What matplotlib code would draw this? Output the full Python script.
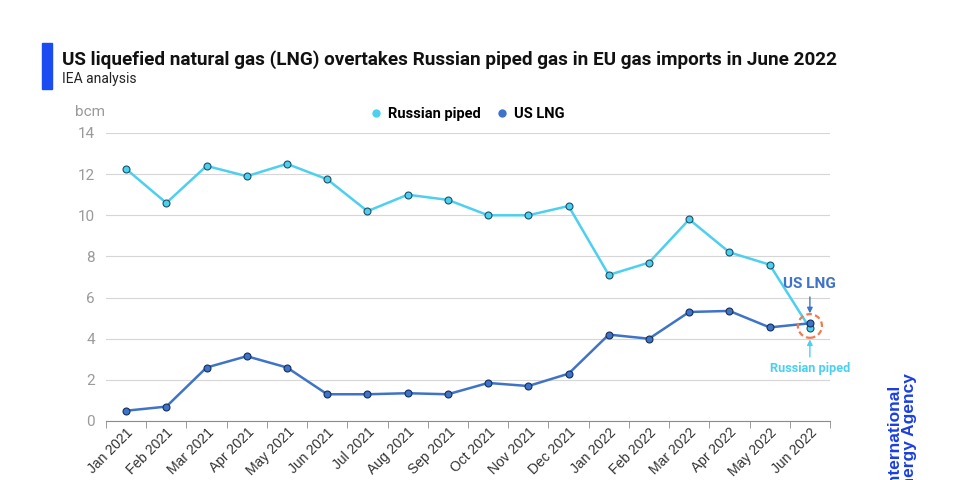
import matplotlib.pyplot as plt
from matplotlib.patches import Ellipse, Rectangle
import numpy as np

months = ['Jan 2021', 'Feb 2021', 'Mar 2021', 'Apr 2021', 'May 2021', 'Jun 2021',
          'Jul 2021', 'Aug 2021', 'Sep 2021', 'Oct 2021', 'Nov 2021', 'Dec 2021',
          'Jan 2022', 'Feb 2022', 'Mar 2022', 'Apr 2022', 'May 2022', 'Jun 2022']
russian_piped = [12.25, 10.6, 12.4, 11.9, 12.5, 11.75, 10.2, 11.0, 10.75, 10.0, 10.0, 10.45,
                 7.1, 7.7, 9.8, 8.2, 7.6, 4.5]
us_lng = [0.5, 0.7, 2.6, 3.15, 2.6, 1.3, 1.3, 1.35, 1.3, 1.85, 1.7, 2.3,
          4.2, 4.0, 5.3, 5.35, 4.55, 4.75]

c_rus = '#4dd0ef'
c_lng = '#3f73c8'
grey = '#9a9a9a'

plt.rcParams['font.family'] = ['Roboto', 'DejaVu Sans']

fig = plt.figure(figsize=(9.6, 4.8), dpi=100)
ax = fig.add_axes([106 / 960, 1 - 421 / 480, 724 / 960, 288 / 480])

x = np.arange(len(months))
ax.plot(x, russian_piped, color=c_rus, lw=1.8, marker='o', ms=5,
        mfc=c_rus, mec='#1f4f66', mew=0.8, label='Russian piped', zorder=3)
ax.plot(x, us_lng, color=c_lng, lw=1.8, marker='o', ms=5,
        mfc=c_lng, mec='#15305a', mew=0.8, label='US LNG', zorder=3)

ax.set_xlim(-0.5, len(months) - 0.5)
ax.set_ylim(0, 14)
ax.set_yticks(range(0, 15, 2))
ax.yaxis.grid(True, color='#d6d6d6', lw=0.8)
ax.set_axisbelow(True)
for s in ['top', 'right', 'left']:
    ax.spines[s].set_visible(False)
ax.spines['bottom'].set_color('#8c8c8c')
ax.tick_params(axis='y', length=0, labelsize=11, labelcolor=grey, pad=8)

ax.set_xticks(x)
ax.set_xticklabels(months, rotation=45, ha='right', rotation_mode='anchor',
                   fontsize=10, color='#333333', family=['Liberation Sans', 'DejaVu Sans'])
ax.tick_params(axis='x', length=0, pad=3)
ax.set_xticks(np.arange(-0.5, len(months)), minor=True)
ax.tick_params(axis='x', which='minor', length=5, color='#8c8c8c')

# annotations at the crossover
ax.add_patch(Ellipse((17, 4.62), 0.6, 1.15, fill=False, ls=(0, (2.5, 1.5)),
                     ec='#f07b4f', lw=1.6, zorder=4))
ax.annotate('US LNG', xy=(17, 5.1), xytext=(17, 6.3), ha='center', va='bottom',
            fontsize=11, fontweight='bold', color=c_lng,
            arrowprops=dict(arrowstyle='-|>', color=c_lng, lw=1, mutation_scale=8))
ax.annotate('Russian piped', xy=(17, 4.1), xytext=(17, 2.85), ha='center', va='top',
            fontsize=9.2, fontweight='bold', color=c_rus, annotation_clip=False,
            arrowprops=dict(arrowstyle='-|>', color=c_rus, lw=1, mutation_scale=8))

leg = fig.legend(loc='center', bbox_to_anchor=(468 / 960, 1 - 114 / 480), ncol=2,
                 frameon=False, handlelength=0.6, handletextpad=0.5, columnspacing=1.2,
                 prop=dict(weight='bold', size=10.5))
for h in leg.legend_handles:
    h.set_linestyle('')
    h.set_markeredgewidth(0)
    h.set_markersize(6)

fig.text(75 / 960, 1 - 112 / 480, 'bcm', fontsize=11, color=grey, va='center')

# title block
fig.patches.append(Rectangle((42 / 960, 1 - 89 / 480), 10 / 960, 46 / 480,
                             transform=fig.transFigure, color='#1b4cf2'))
fig.text(62 / 960, 1 - 60 / 480,
         'US liquefied natural gas (LNG) overtakes Russian piped gas in EU gas imports in June 2022',
         fontsize=13.6, fontweight='bold', color='#111111', va='center')
fig.text(62 / 960, 1 - 79 / 480, 'IEA analysis', fontsize=10, color='#222222', va='center')

# logo text, cut off at the bottom
fig.text(902 / 960, -0.04, 'International\nEnergy Agency', rotation=90, fontsize=12.5,
         fontweight='bold', color='#1b3fe0', ha='center', va='bottom',
         linespacing=0.95, family=['Liberation Sans', 'DejaVu Sans'])

fig.savefig('out.png', dpi=100)
